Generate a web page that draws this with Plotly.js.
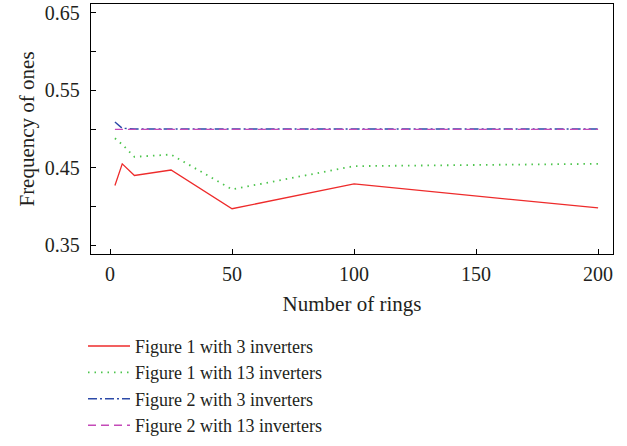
<!DOCTYPE html>
<html>
<head>
<meta charset="utf-8">
<script src="https://cdn.plot.ly/plotly-3.0.1.min.js"></script>
<style>html,body{margin:0;padding:0;background:#fff;}#chart{width:627px;height:446px;}</style>
</head>
<body>
<div id="chart"></div>
<script>
const rings = [2, 5, 10, 25, 50, 100, 200];
const fig1Inv3 = [0.427, 0.455, 0.440, 0.447, 0.397, 0.429, 0.398];
const fig1Inv13 = [0.488, 0.480, 0.464, 0.467, 0.422, 0.452, 0.455];
const fig2Inv3 = [0.509, 0.501, 0.500, 0.500, 0.500, 0.500, 0.500];
const fig2Inv13 = [0.4995, 0.4995, 0.4995, 0.4995, 0.4995, 0.4995, 0.4995];
const names = ["Figure 1 with 3 inverters", "Figure 1 with 13 inverters", "Figure 2 with 3 inverters", "Figure 2 with 13 inverters"];
const xTicks = [0, 50, 100, 150, 200];
const yTicks = [0.35, 0.45, 0.55, 0.65];
const yMinorTicks = [0.40, 0.50, 0.60];

const serif = "Liberation Serif, DejaVu Serif, serif";
const txt = "#231f20";
const traces = [
  {x: rings, y: fig1Inv3, name: names[0], mode: "lines", line: {color: "#ee2b2b", width: 1.3, dash: "solid"}},
  {x: rings, y: fig1Inv13, name: names[1], mode: "lines", line: {color: "#4cc44c", width: 1.8, dash: "1.5px,5px"}},
  {x: rings, y: fig2Inv3, name: names[2], mode: "lines", line: {color: "#2c4aa8", width: 1.4, dash: "9px,3px,2px,3px"}},
  {x: rings, y: fig2Inv13, name: names[3], mode: "lines", line: {color: "#c44ab8", width: 1.4, dash: "8px,5px"}}
];

const layout = {
  width: 627, height: 446,
  margin: {l: 91, r: 14, t: 4, b: 191},
  paper_bgcolor: "#fff", plot_bgcolor: "#fff",
  font: {family: serif, size: 19, color: txt},
  showlegend: true,
  legend: {x: -0.0153, xanchor: "left", y: -0.29, yanchor: "top", orientation: "v", itemwidth: 42,
           font: {family: serif, size: 18, color: txt}, bgcolor: "rgba(0,0,0,0)"},
  xaxis: {
    range: [-7.8, 206.1], tickvals: xTicks, ticks: "inside", ticklen: 5, tickwidth: 1, tickcolor: "#000",
    showline: true, linecolor: "#000", linewidth: 1.2, mirror: true, showgrid: false, zeroline: false,
    title: {text: "Number of rings", font: {family: serif, size: 21, color: txt}, standoff: 12},
    tickfont: {family: serif, size: 20, color: txt}, ticklabelstandoff: 2
  },
  yaxis: {
    range: [0.3385, 0.6615], tickvals: yTicks, ticktext: yTicks.map(v => v.toFixed(2)),
    ticks: "inside", ticklen: 5, tickwidth: 1, tickcolor: "#000",
    minor: {tickvals: yMinorTicks, ticks: "inside", ticklen: 5, tickcolor: "#000", showgrid: false},
    showline: true, linecolor: "#000", linewidth: 1.2, mirror: true, showgrid: false, zeroline: false,
    title: {text: "Frequency of ones", font: {family: serif, size: 21, color: txt}, standoff: 4},
    tickfont: {family: serif, size: 20, color: txt}, ticklabelstandoff: 6
  }
};

Plotly.newPlot("chart", traces, layout, {displayModeBar: false, staticPlot: true});
</script>
</body>
</html>
